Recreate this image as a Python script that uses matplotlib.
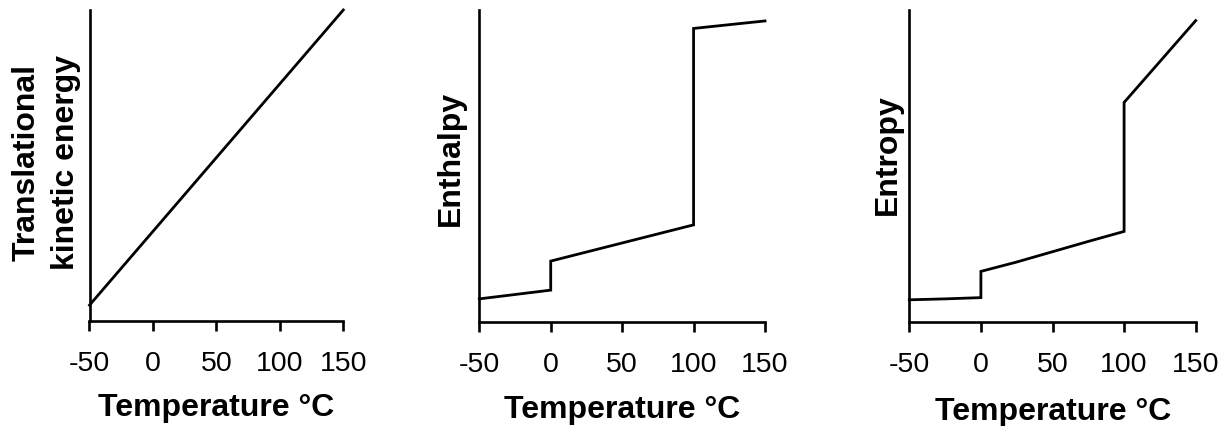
import matplotlib
matplotlib.use("Agg")
import matplotlib.pyplot as plt

plt.rcParams['font.family'] = ['Liberation Sans', 'DejaVu Sans']

# Data
ke_temp = [-50, 150]
ke_vals = [0.05, 1.0]

enth_temp = [-50, 0, 0, 100, 100, 150]
enth_vals = [0.075, 0.103, 0.196, 0.312, 0.941, 0.965]

entr_temp = [-50, -25, 0, 0, 25, 50, 75, 100, 100, 150]
entr_vals = [0.072, 0.075, 0.079, 0.163, 0.193, 0.226, 0.259, 0.291, 0.704, 0.966]

xticks = [-50, 0, 50, 100, 150]
xtick_labels = ['-50', '0', '50', '100', '150']
ylabels = ['Translational\nkinetic energy', 'Enthalpy', 'Entropy']
xlabel = 'Temperature °C'

W, H = 1223, 427
fig = plt.figure(figsize=(W / 100, H / 100), dpi=100)

# axes geometry in pixels: left, right, top, bottom
geom = [(89.5, 343.3, 11, 321.7), (479.3, 765.0, 11, 323.3), (909.3, 1195.7, 11, 323.3)]
ylab_pos = [(81.0, 163.0), (466.0, 158.0), (902.5, 155.0)]
xlab_pos = [(216.0, 416.0), (622.5, 418.3), (1053.0, 420.5)]

series = [(ke_temp, ke_vals), (enth_temp, enth_vals), (entr_temp, entr_vals)]

for i, ((l, r, t, b), (xs, ys)) in enumerate(zip(geom, series)):
    ax = fig.add_axes([l / W, 1 - b / H, (r - l) / W, (b - t) / H])
    ax.plot(xs, ys, color='black', lw=2.0, solid_joinstyle='miter', clip_on=False)
    ax.set_xlim(-50, 150)
    ax.set_ylim(0, 1)
    for s in ['top', 'right']:
        ax.spines[s].set_visible(False)
    for s in ['left', 'bottom']:
        ax.spines[s].set_linewidth(1.9)
    ax.set_xticks(xticks)
    ax.set_xticklabels(xtick_labels)
    ax.set_yticks([])
    ax.tick_params(axis='x', direction='out', length=7.5, width=1.9, pad=13.5,
                   labelsize=20.5)
    # y label
    ax.set_ylabel(ylabels[i], fontsize=23, fontweight='bold', linespacing=1.42)
    yx, yy = ylab_pos[i]
    ax.yaxis.set_label_coords((yx - l) / (r - l), (b - yy) / (b - t))
    # x label
    xx, xy = xlab_pos[i]
    fig.text(xx / W, 1 - xy / H, xlabel, fontsize=23, fontweight='bold',
             ha='center', va='baseline')

fig.savefig('out.png', dpi=100)
